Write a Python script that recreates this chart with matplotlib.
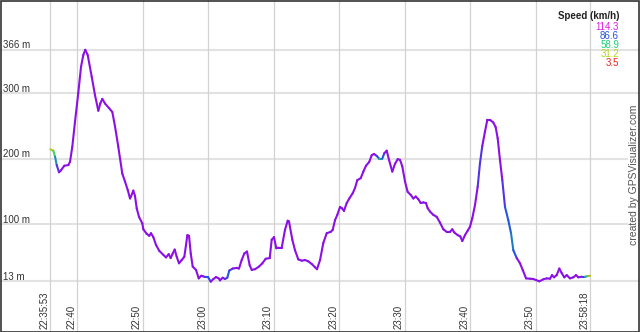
import matplotlib
matplotlib.use("Agg")
import matplotlib.pyplot as plt
import numpy as np
from matplotlib.collections import LineCollection
from matplotlib.colors import LinearSegmentedColormap, Normalize
from matplotlib.patches import Rectangle
import matplotlib.transforms as mtransforms

plt.rcParams['font.family'] = ['Liberation Sans', 'DejaVu Sans']

# ---------------- data ----------------
start_time = "22:35:53"
tick_labels = ["22:35:53", "22:40", "22:50", "23:00", "23:10", "23:20",
               "23:30", "23:40", "23:50", "23:58:18"]
y_ticks = [13, 100, 200, 300, 366]
legend_title = "Speed (km/h)"
legend_values = [114.3, 86.6, 58.9, 31.2, 3.5]

# minutes after start
minutes = [
    0.00, 0.46, 0.72, 0.98, 1.33, 1.63, 2.14, 2.75, 3.01, 3.36,
    3.77, 4.27, 4.69, 5.04, 5.34, 5.71, 6.32, 6.82, 7.33, 7.63,
    7.94, 8.35, 8.96, 9.47, 9.88, 10.38, 10.99, 11.40, 11.82, 12.17,
    12.32, 12.67, 12.93, 13.19, 13.54, 14.05, 14.20, 14.72, 15.11, 15.37,
    15.73, 16.14, 16.64, 17.25, 17.66, 18.08, 18.38, 18.69, 18.99, 19.30,
    19.65, 20.06, 20.46, 20.72, 20.92, 21.18, 21.44, 21.74, 22.24, 22.66,
    23.05, 23.36, 23.66, 24.08, 24.49, 24.89, 25.30, 25.71, 25.91, 26.32,
    26.67, 27.02, 27.33, 27.85, 28.46, 28.81, 29.22, 29.62, 30.03, 30.44,
    30.75, 31.25, 31.86, 32.37, 32.89, 33.50, 33.80, 34.15, 34.50, 34.81,
    35.33, 35.83, 36.24, 36.44, 36.95, 37.36, 37.86, 38.39, 38.89, 39.39,
    39.91, 40.41, 40.72, 41.18, 41.68, 42.20, 42.81, 43.11, 43.47, 43.82,
    44.23, 44.53, 44.84, 45.25, 45.65, 46.17, 46.52, 46.87, 47.39, 47.79,
    48.20, 48.70, 49.07, 49.42, 49.83, 50.18, 50.69, 50.99, 51.36, 51.71,
    52.21, 52.63, 53.04, 53.39, 53.74, 54.15, 54.56, 55.07, 55.42, 55.79,
    56.18, 56.55, 56.95, 57.36, 57.62, 57.97, 58.47, 58.99, 59.50, 60.00,
    60.52, 61.02, 61.37, 61.68, 62.20, 62.60, 62.90, 63.31, 63.73, 64.08,
    64.43, 64.84, 65.25, 65.60, 65.95, 66.36, 66.72, 67.13, 67.63, 67.99,
    68.30, 68.65, 69.01, 69.42, 69.92, 70.34, 70.69, 71.21, 71.71, 72.12,
    72.63, 73.24, 73.74, 74.15, 74.66, 75.27, 75.79, 76.29, 76.60, 76.90,
    77.31, 77.71, 78.08, 78.47, 78.84, 79.34, 79.85, 80.26, 80.61, 81.13,
    81.63, 82.14, 82.42,
]

elevation = [
    214, 212, 203, 190, 179, 182, 189, 190, 195, 218,
    256, 300, 340, 358, 366, 358, 325, 297, 273, 284,
    291, 284, 277, 271, 249, 218, 177, 165, 152, 139,
    142, 151, 143, 124, 111, 101, 92, 85, 82, 86,
    80, 68, 59, 53, 49, 54, 48, 55, 61, 50,
    40, 45, 50, 68, 83, 82, 55, 35, 30, 17,
    21, 20, 19, 19, 12, 16, 19, 17, 14, 18,
    16, 18, 29, 32, 33, 32, 45, 55, 58, 37,
    30, 31, 35, 40, 47, 48, 76, 80, 63, 64,
    64, 91, 105, 104, 76, 60, 46, 44, 45, 43,
    39, 34, 31, 45, 71, 86, 88, 91, 106, 114,
    126, 124, 120, 132, 139, 147, 155, 167, 170, 180,
    189, 195, 205, 207, 204, 200, 200, 208, 212, 198,
    180, 192, 199, 198, 188, 165, 149, 144, 139, 142,
    138, 132, 133, 132, 124, 119, 114, 111, 102, 92,
    88, 88, 92, 87, 83, 81, 74, 83, 90, 96,
    109, 129, 157, 193, 219, 241, 259, 259, 255, 248,
    231, 198, 167, 126, 106, 86, 60, 48, 40, 30,
    17, 16.5, 16, 14.5, 12.5, 15.6, 17, 16.5, 22, 18.6,
    22, 32, 25, 18.6, 22, 17, 18.6, 22, 18.6, 19.6,
    19.6, 20.6, 21,
]

speed = [
    20, 40, 62, 85, 105, 105, 105, 105, 105, 105,
    105, 105, 105, 105, 105, 105, 105, 105, 105, 105,
    105, 105, 105, 105, 105, 105, 105, 105, 105, 105,
    105, 105, 105, 105, 105, 105, 105, 105, 105, 105,
    105, 105, 105, 105, 105, 105, 105, 105, 105, 105,
    105, 105, 105, 105, 105, 105, 105, 105, 105, 105,
    105, 105, 105, 70, 105, 105, 105, 105, 105, 105,
    105, 85, 85, 105, 105, 105, 105, 105, 105, 105,
    105, 105, 105, 105, 105, 105, 105, 105, 105, 105,
    105, 105, 105, 105, 105, 105, 105, 105, 105, 105,
    105, 105, 105, 105, 105, 105, 105, 105, 105, 105,
    105, 105, 105, 105, 105, 105, 105, 105, 105, 105,
    105, 105, 105, 105, 105, 70, 70, 105, 105, 105,
    105, 105, 105, 105, 105, 105, 105, 105, 105, 105,
    105, 105, 105, 105, 105, 105, 105, 105, 105, 105,
    105, 105, 105, 105, 105, 105, 105, 105, 105, 105,
    105, 105, 105, 85, 105, 105, 105, 105, 105, 105,
    105, 105, 105, 85, 85, 85, 70, 105, 105, 105,
    105, 105, 105, 105, 105, 105, 105, 105, 105, 105,
    105, 105, 105, 105, 105, 105, 105, 105, 105, 105,
    80, 50, 5,
]


def to_min(s):
    parts = [int(p) for p in s.split(":")]
    while len(parts) < 3:
        parts.append(0)
    return parts[0] * 60 + parts[1] + parts[2] / 60.0


t0 = to_min(start_time)
tick_pos = [to_min(s) - t0 for s in tick_labels]

# ---------------- figure ----------------
W, H = 640, 332
fig = plt.figure(figsize=(W / 100, H / 100), dpi=100)
fig.patch.set_facecolor("white")
ax = fig.add_axes([0, 0, 1, 1])
ax.set_axis_off()

# pixel mapping: x = 50.3 + m*6.55 ; y(top) = 281 - (e-13)*0.655
px_per_min = 6.55
px_per_m = 0.655
ax.set_xlim(-50.3 / px_per_min, (W - 50.3) / px_per_min)
ax.set_ylim(13 - (H - 281) / px_per_m, 13 + 281 / px_per_m)

# grid lines
for v in y_ticks:
    ax.axhline(v, color="#e2e2e2", lw=1.5, zorder=1)
for p in tick_pos:
    ax.axvline(p, color="#d2d2d2", lw=0.9, zorder=1)

# speed-coloured elevation line
cmap = LinearSegmentedColormap.from_list(
    "speed",
    [(0.0, "#e82222"), (0.25, "#b0d41c"), (0.5, "#1cd27a"),
     (0.75, "#2252e6"), (0.916, "#8a10e6"), (1.0, "#e020e0")])
norm = Normalize(vmin=3.5, vmax=114.3)
x = np.array(minutes)
y = np.array(elevation, dtype=float)
s = np.array(speed, dtype=float)
pts = np.column_stack([x, y]).reshape(-1, 1, 2)
segs = np.concatenate([pts[:-1], pts[1:]], axis=1)
lc = LineCollection(segs, cmap=cmap, norm=norm, linewidths=1.5,
                    capstyle="round", joinstyle="round", zorder=3)
lc.set_array((s[:-1] + s[1:]) / 2)
ax.add_collection(lc)

# y labels
off_up = mtransforms.ScaledTranslation(0, 1.5 / 100, fig.dpi_scale_trans)
ytrans = mtransforms.blended_transform_factory(ax.transAxes, ax.transData) + off_up
for v in y_ticks:
    ax.text(3 / W, v, f"{v} m", transform=ytrans, ha="left", va="baseline",
            fontsize=7, color="#333333", zorder=4)

# x labels
off_left = mtransforms.ScaledTranslation(-1.0 / 100, 0, fig.dpi_scale_trans)
xtrans = mtransforms.blended_transform_factory(ax.transData, ax.transAxes) + off_left
for p, lab in zip(tick_pos, tick_labels):
    ax.text(p, 3 / H, lab, transform=xtrans, rotation=90, ha="right",
            va="bottom", fontsize=7, color="#333333", zorder=4)

# legend
ax.text(619 / W, 1 - 16 / H, legend_title, transform=ax.transAxes,
        ha="right", va="center", fontsize=7, fontweight="bold",
        color="#222222", zorder=5)
for i, v in enumerate(legend_values):
    ax.text(619 / W, 1 - (26.7 + 9 * i) / H, f"{v}", transform=ax.transAxes,
            ha="right", va="center", fontsize=7, color=cmap(norm(v)),
            zorder=5)

# watermark
ax.text(634 / W, 1 - 175 / H, "created by GPSVisualizer.com",
        transform=ax.transAxes, rotation=90, ha="center", va="center",
        fontsize=7.5, color="#555555", zorder=5,
        bbox=dict(facecolor="white", edgecolor="none", pad=1.0))

# outer frame
fig.patches.append(Rectangle((0.5 / W, 0.5 / H), 1 - 1.5 / W, 1 - 1.5 / H,
                             transform=fig.transFigure, fill=False,
                             edgecolor="#333333", lw=1.2, zorder=10))

fig.savefig("out.png", dpi=100, facecolor="white")
